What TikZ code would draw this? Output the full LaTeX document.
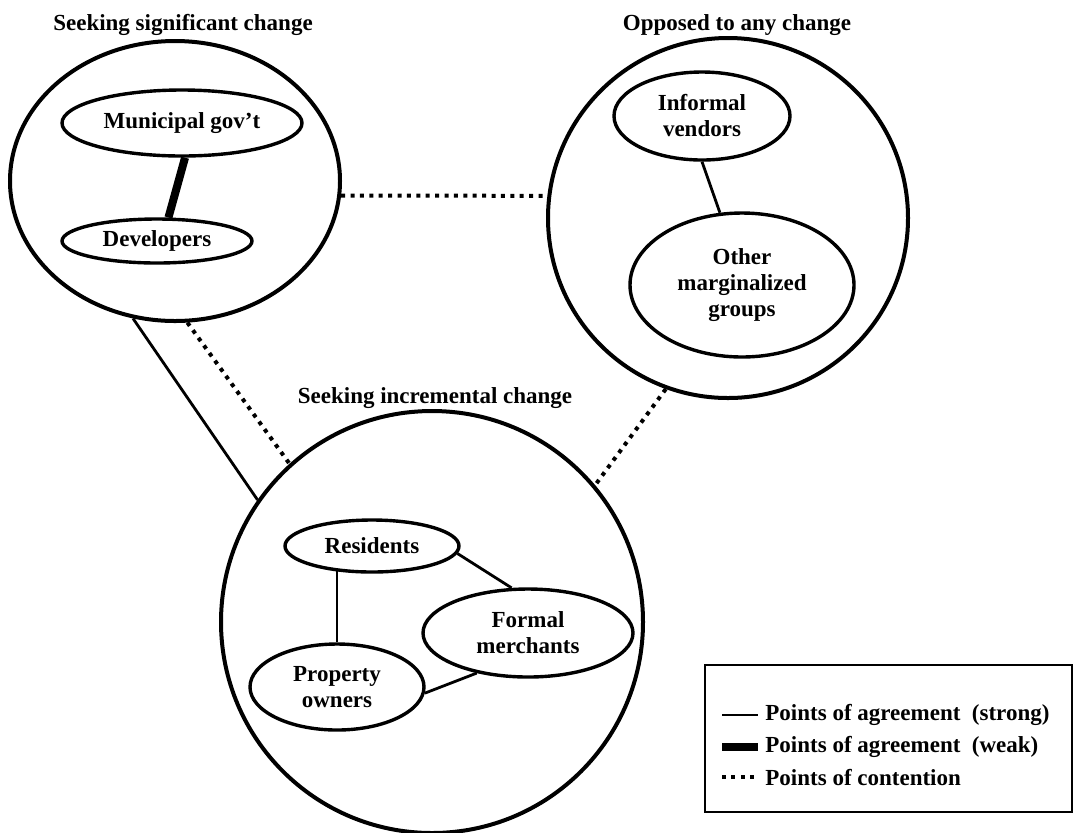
\documentclass[tikz,border=0pt]{standalone}
\usepackage{fontspec}
\setmainfont{Liberation Serif}
\usetikzlibrary{shapes.geometric,positioning}

\begin{document}
\begin{tikzpicture}[x=0.5pt,y=-0.5pt,
	every node/.style={font=\bfseries\fontsize{11.5}{13}\selectfont},
	group/.style={draw, line width=2pt, inner sep=0pt},
	actor/.style={draw, ellipse, line width=1.7pt, inner sep=0pt, align=center},
	strong/.style={line width=1.4pt},
	weak/.style={line width=4pt},
	contention/.style={line width=2pt, dash pattern=on 2pt off 2.7pt}]
	
	\useasboundingbox (0,0) rectangle (1075,832);
	
	% the three groups
	\node[group, ellipse, minimum width=165pt, minimum height=140pt] (sig) at (175,181) {};
	\node[group, circle, minimum size=180pt] (opp) at (728,218) {};
	\node[group, circle, minimum size=211pt] (inc) at (432,622) {};
	
	\node (sigT) at (183,25) {Seeking significant change};
	\node (oppT) at (737,25) {Opposed to any change};
	\node (incT) at (435,398) {Seeking incremental change};
	
	% actors
	\node[actor, minimum width=120pt, minimum height=33pt] (gov) at (182,123) {Municipal gov't};
	\node[actor, minimum width=95pt, minimum height=22pt] (dev) at (157,241) {Developers};
	\node[actor, minimum width=88pt, minimum height=44pt] (vend) at (702,116) {Informal\\vendors};
	\node[actor, minimum width=112pt, minimum height=72pt] (marg) at (742,285) {Other\\marginalized\\groups};
	\node[actor, minimum width=87pt, minimum height=26pt] (res) at (372,546) {Residents};
	\node[actor, minimum width=87pt, minimum height=43pt] (prop) at (337,687) {Property\\owners};
	\node[actor, minimum width=105pt, minimum height=44pt] (merch) at (528,633) {Formal\\merchants};
	
	\draw[weak] (gov.-85) -- (dev.64);
	\draw[strong] (vend.south) -- (marg.107);
	\draw[strong] (res.216) -- (res.216 |- prop.north);
	\draw[strong] (res.-5) -- (merch.110);
	\draw[strong] (prop.-4) -- (merch.218);
	
	% between the groups
	\draw[contention] (sig.-5) -- (opp.173);
	\draw[strong] (sig.253) -- (inc.145);
	\draw[contention] (sig.275) -- (inc.132);
	\draw[contention] (opp.250) -- (inc.40);
	
	% key
	\draw[line width=1.3pt] (705,665) rectangle (1072,812);
	\foreach \y/\look/\what [count=\i] in {
		715/strong/{Points of agreement\enspace(strong)},
		747/weak/{Points of agreement\enspace(weak)},
		777/contention/{Points of contention}}
	{
		\coordinate (k\i a) at (722,\y);
		\coordinate (k\i b) at (758,\y);
		\draw[\look] (k\i a) -- (k\i b);
		\node[anchor=west, inner sep=0pt] (k\i t) at (765,\y) {\what};
	};
	
\end{tikzpicture}
\end{document}
